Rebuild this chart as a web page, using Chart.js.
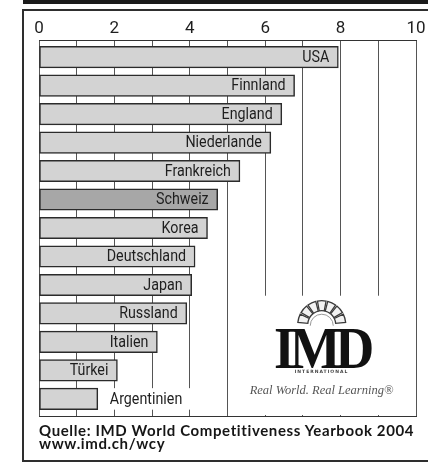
<!DOCTYPE html>
<html>
<head>
<meta charset="utf-8">
<script src="https://cdn.jsdelivr.net/npm/chart.js@4"></script>
<style>
  html, body { margin: 0; padding: 0; background: #fff; }
  #wrap { position: relative; width: 428px; height: 465px; overflow: hidden; }
  #topbar { position: absolute; left: 23px; top: 0; width: 410px; height: 4px; background: #1b1b1b; }
  #frame { position: absolute; left: 22px; top: 9px; width: 430px; height: 449px; border: 2px solid #2e2e2e; }
  #wcy { position: absolute; left: 0; top: 0; }
  .logo { position: absolute; left: 228px; width: 187px; text-align: center; color: #111; white-space: nowrap; }
  #imd { top: 318px; font: bold 60px "Liberation Serif", serif; line-height: 60px; letter-spacing: -6px; transform: scaleX(0.9); }
  #intl { top: 369px; font: bold 4.5px "DejaVu Sans", sans-serif; letter-spacing: 1px; line-height: 6px; color: #444; }
  #claim { top: 382px; font: italic 12.5px "Liberation Serif", serif; line-height: 16px; color: #555; }
  #source { position: absolute; left: 39px; top: 424px; font: bold 15px Lato, sans-serif; letter-spacing: 0.62px; line-height: 12.5px; color: #161616; white-space: nowrap; }
</style>
</head>
<body>
<div id="wrap">
  <div id="topbar"></div>
  <div id="frame"></div>
  <canvas id="wcy" width="428" height="465"></canvas>
  <div class="logo" id="imd">IMD</div>
  <div class="logo" id="intl">INTERNATIONAL</div>
  <div class="logo" id="claim">Real World. Real Learning®</div>
  <div id="source">Quelle: IMD World Competitiveness Yearbook 2004<br>www.imd.ch/wcy</div>
</div>
<script>
// Countries, top to bottom
const countries = ['USA', 'Finnland', 'England', 'Niederlande', 'Frankreich', 'Schweiz', 'Korea',
  'Deutschland', 'Japan', 'Russland', 'Italien', 'Türkei', 'Argentinien'];
const scores = [7.94, 6.78, 6.44, 6.15, 5.33, 4.74, 4.47, 4.14, 4.05, 3.92, 3.14, 2.08, 1.56];
const axisLabels = [0, 2, 4, 6, 8, 10];
const highlighted = 'Schweiz';
const outsideLabel = 'Argentinien';

const fontFamily = 'Roboto, "DejaVu Sans", sans-serif';
const squeeze = 0.84; // the original type is a narrow one

// Country names inside the bars (Argentinien next to it)
const barLabels = {
  id: 'barLabels',
  afterDatasetsDraw(chart) {
    const ctx = chart.ctx;
    const bars = chart.getDatasetMeta(0).data;
    ctx.save();
    ctx.font = '17px ' + fontFamily;
    ctx.textBaseline = 'middle';
    bars.forEach((bar, i) => {
      const name = countries[i];
      const w = ctx.measureText(name).width * squeeze;
      let x0;
      if (name === outsideLabel) {
        ctx.fillStyle = '#fff';
        ctx.fillRect(bar.x + 1, bar.y - bar.height / 2, w + 22, bar.height);
        x0 = bar.x + 12;
      } else {
        x0 = bar.x - 9 - w;
      }
      ctx.save();
      ctx.translate(x0, bar.y + 0.5);
      ctx.scale(squeeze, 1);
      ctx.fillStyle = '#1e1e1e';
      ctx.textAlign = 'left';
      ctx.fillText(name, 0, 0);
      ctx.restore();
    });
    ctx.restore();
  }
};

// White box for the logo, covering the grid in the lower right
const logoBox = {
  id: 'logoBox',
  beforeDatasetsDraw(chart) {
    const ctx = chart.ctx;
    const x = chart.scales.x;
    const area = chart.chartArea;
    const japan = chart.getDatasetMeta(0).data[countries.indexOf('Japan')];
    const left = x.getPixelForValue(5) + 1;
    const right = x.getPixelForValue(10) - 1;
    const top = japan.y + japan.height / 2;
    ctx.save();
    ctx.fillStyle = '#fff';
    ctx.fillRect(left, top, right - left, area.bottom - 1 - top);

    // sun with rays above the letters
    const cx = x.getPixelForValue(7.5);
    const cy = top + 29;
    ctx.strokeStyle = '#3a3a3a';
    ctx.lineWidth = 1.3;
    ctx.fillStyle = '#f2f2f2';
    const n = 7;
    const a0 = Math.PI * 1.02, a1 = Math.PI * 1.98;
    const gap = 0.07;
    for (let k = 0; k < n; k++) {
      const s = a0 + (a1 - a0) * k / n + gap / 2;
      const e = a0 + (a1 - a0) * (k + 1) / n - gap / 2;
      ctx.beginPath();
      ctx.arc(cx, cy, 24, s, e);
      ctx.arc(cx, cy, 14, e, s, true);
      ctx.closePath();
      ctx.fill();
      ctx.stroke();
    }
    ctx.beginPath();
    ctx.arc(cx, cy + 1, 11.5, Math.PI, 0);
    ctx.fillStyle = '#fff';
    ctx.fill();
    ctx.strokeStyle = '#999';
    ctx.lineWidth = 1;
    ctx.stroke();
    ctx.restore();
  }
};

const ctx = document.getElementById('wcy').getContext('2d');

new Chart(ctx, {
  type: 'bar',
  data: {
    labels: countries,
    datasets: [{
      data: scores.map((v, i) => ({ x: v, y: i })),
      backgroundColor: countries.map(c => c === highlighted ? '#a7a7a7' : '#d3d3d3'),
      borderColor: '#2b2b2b',
      borderWidth: 1.5,
      borderSkipped: false,
      barThickness: 21.5
    }]
  },
  options: {
    indexAxis: 'y',
    responsive: false,
    animation: false,
    devicePixelRatio: 1,
    layout: {
      padding: { left: 39, right: 12, top: 0, bottom: 0 }
    },
    plugins: {
      legend: { display: false },
      tooltip: { enabled: false }
    },
    scales: {
      x: {
        type: 'linear',
        position: 'top',
        min: 0,
        max: 10,
        afterFit: scale => { scale.height = 40; },
        ticks: {
          stepSize: 1,
          autoSkip: false,
          maxRotation: 0,
          padding: 1,
          color: '#1e1e1e',
          font: { family: fontFamily, size: 17 },
          callback: value => axisLabels.includes(value) ? value : ''
        },
        grid: {
          color: '#555',
          lineWidth: 1,
          drawTicks: false
        },
        border: { display: true, color: '#333', width: 1 }
      },
      x2: {
        type: 'linear',
        axis: 'x',
        position: 'bottom',
        min: 0,
        max: 10,
        afterFit: scale => { scale.height = 49; },
        ticks: { display: false },
        grid: { display: false, drawTicks: false },
        border: { display: true, color: '#333', width: 1 }
      },
      y: {
        type: 'linear',
        reverse: true,
        offset: false,
        min: -0.6,
        max: 12.6,
        display: false
      }
    }
  },
  plugins: [logoBox, barLabels]
});
</script>
</body>
</html>
